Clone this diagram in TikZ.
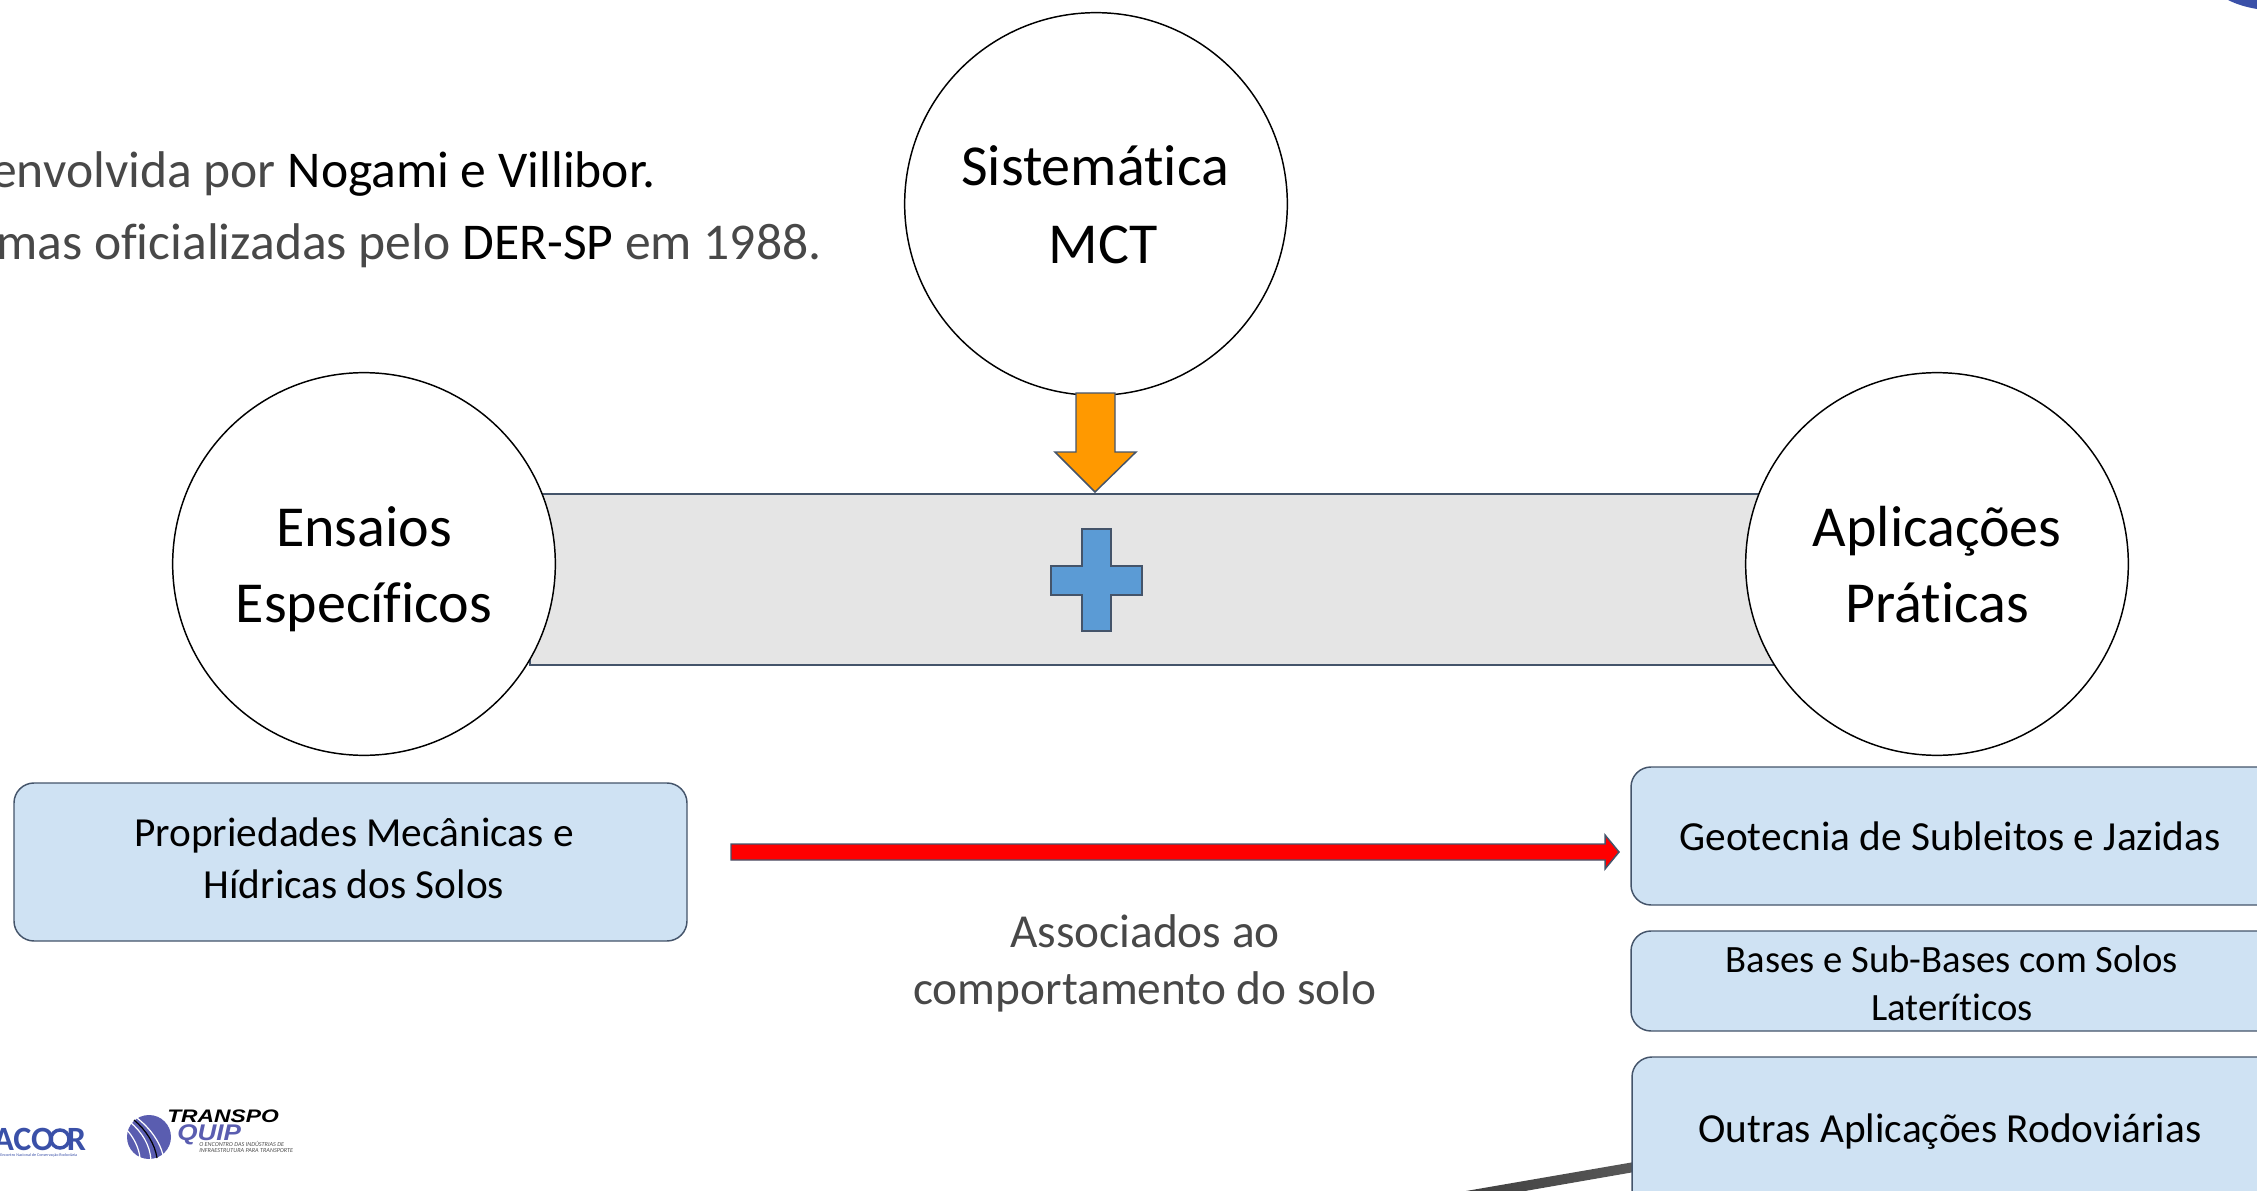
\documentclass[tikz,border=0pt]{standalone}
\usepackage{fontspec}
\setmainfont{Carlito}[Ligatures=NoCommon]
\newfontfamily\logosans{Liberation Sans}
\definecolor{edgeblue}{HTML}{44546A}
\definecolor{boxblue}{HTML}{CFE2F3}
\definecolor{bandgray}{HTML}{E5E5E5}
\definecolor{orangefill}{HTML}{FF9900}
\definecolor{plusblue}{HTML}{5B9BD5}
\definecolor{logoblue}{HTML}{5A5DB0}
\definecolor{logodark}{HTML}{3A50A8}
\definecolor{lighttext}{HTML}{484848}
\newcommand{\pxfont}[1]{\fontsize{#1}{#1}\selectfont}
\tikzset{
  x=0.75pt,y=-0.75pt,
  bigcircle/.style={circle,draw=black,line width=1.1pt,fill=white,minimum size=287pt,inner sep=0pt},
  softbox/.style={draw=edgeblue,line width=1.1pt,fill=boxblue,rounded corners=15pt},
  circletext/.style={inner sep=0pt,anchor=base,text=black,font=\pxfont{43.5}},
  boxtext/.style={inner sep=0pt,anchor=base,text=black,font=\pxfont{31}},
  boxsmall/.style={inner sep=0pt,anchor=base,text=black,font=\pxfont{29}},
  shapeline/.style={draw=edgeblue,line width=1.1pt},
  noteleft/.style={inner sep=0pt,text=lighttext,anchor=base west,font=\pxfont{38.7}},
  notemid/.style={inner sep=0pt,anchor=base,text=lighttext,font=\pxfont{35.5}},
}
\begin{document}
\begin{tikzpicture}
\useasboundingbox (0,0) rectangle (2257,1191);
\begin{scope}
\clip (0,0) rectangle (2257,1191);
\fill[logodark] (2228,0) -- (2257,0) -- (2257,9) .. controls (2245,7) and (2236,4) .. (2228,0) -- cycle;
\path[fill=bandgray,draw=edgeblue,line width=1pt] (530,494) rectangle (1780,665);
\shade[left color=black!75,right color=black!65] (1466,1191) -- (1640,1161) -- (1640,1171) -- (1525,1191) -- cycle;
\node[bigcircle] (sis) at (1096,204) {};
\node[bigcircle] (ens) at (364,564) {};
\node[bigcircle] (apl) at (1937,564) {};
\path[shapeline,fill=orangefill] (1076,393) -- (1115,393) -- (1115,452) -- (1136,452) -- (1095,492) -- (1055,452) -- (1076,452) -- cycle;
\path[shapeline,fill=plusblue] (1082,529) -- (1111,529) -- (1111,566) -- (1142,566) -- (1142,595) -- (1111,595) -- (1111,631) -- (1082,631) -- (1082,595) -- (1051,595) -- (1051,566) -- (1082,566) -- cycle;
\path[softbox] (14,783) rectangle (687,941);
\path[softbox] (1631,767) rectangle (2300,905);
\path[softbox] (1631,931) rectangle (2300,1031);
\path[softbox] (1632,1057) rectangle (2300,1240);
\path[shapeline,fill=red] (731,844) -- (1605,844) -- (1605,835) -- (1619,852) -- (1605,869) -- (1605,860) -- (731,860) -- cycle;
% logo disc with road stripes
\fill[logoblue] (149,1137) circle (22);
\draw[white,line width=0.9pt] (130,1122) .. controls (142,1132) and (150,1145) .. (151,1160);
\draw[white,line width=0.9pt] (137,1118) .. controls (150,1128) and (160,1142) .. (163,1155);
\draw[black,line width=0.9pt] (134,1120) .. controls (146,1130) and (155,1144) .. (157,1158);
\draw[white,line width=0.9pt] (127,1130) .. controls (134,1138) and (139,1148) .. (140,1158);
\end{scope}
\node[circletext] (t1) at (1095,186) {Sistemática};
\node[circletext] (t2) at (1103,264) {MCT};
\node[circletext] (t3) at (364,546) {Ensaios};
\node[circletext] (t4) at (364,622) {Específicos};
\node[circletext] (t5) at (1937,546) {Aplicações};
\node[circletext] (t6) at (1937,622) {Práticas};
\node[boxtext] (b1a) at (354,846) {Propriedades Mecânicas e};
\node[boxtext] (b1b) at (354,898) {Hídricas dos Solos};
\node[boxtext] (b2) at (1950,850) {Geotecnia de Subleitos e Jazidas};
\node[boxsmall] (b3a) at (1952,972) {Bases e Sub-Bases com Solos};
\node[boxsmall] (b3b) at (1952,1020) {Lateríticos};
\node[boxtext] (b4) at (1950,1142) {Outras Aplicações Rodoviárias};
\node[notemid] (c1) at (1145,947) {Associados ao};
\node[notemid] (c2) at (1145,1004) {comportamento do solo};
\node[noteleft] (l1) at (-9,188) {envolvida por {\color{black}Nogami e Villibor.}};
\node[noteleft] (l2) at (-4,260) {mas oficializadas pelo {\color{black}DER-SP} em 1988.};
% logos
\node[inner sep=0pt,anchor=base west,text=logodark,font=\bfseries\pxfont{25.5}] (acor) at (-7,1150) {ACO\hspace{9.5pt}R};
\draw[logodark,line width=2.6pt] (60,1139) circle (9);
\node[inner sep=0pt,anchor=base west,text=logodark,font=\pxfont{3.1}] (acors) at (0,1156) {Encontro Nacional de Conservação Rodoviária};
\node[inner sep=0pt,anchor=base west,text=black,font=\logosans\bfseries\itshape\pxfont{13.6}] (tr) at (167,1122) {\scalebox{1.26}[1]{TRANSPO}};
\node[inner sep=0pt,anchor=base west,text=logoblue,font=\logosans\bfseries\itshape\pxfont{17}] (qu) at (177,1140) {\scalebox{1.15}[1]{QUIP}};
\node[inner sep=0pt,anchor=base west,text=black!70,font=\itshape\pxfont{4.6}] (sm) at (199,1146) {O ENCONTRO DAS INDÚSTRIAS DE};
\node[inner sep=0pt,anchor=base west,text=black!70,font=\itshape\pxfont{4.6}] (sn) at (199,1152) {INFRAESTRUTURA PARA TRANSPORTE};
\end{tikzpicture}
\end{document}
